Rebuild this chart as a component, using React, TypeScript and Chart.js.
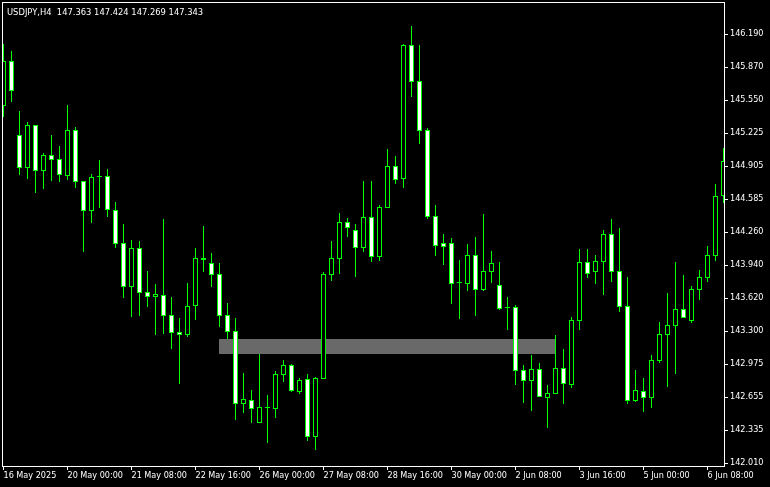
import React, { useEffect, useRef } from "react";
import { Chart, registerables } from "chart.js";

Chart.register(...registerables);

const chartTitle = "USDJPY,H4  147.363 147.424 147.269 147.343";

const openPrices = [
  145.492, 145.924, 145.204, 144.888, 145.301, 144.859, 145.009, 144.970, 144.810, 145.252,
  144.756, 144.469, 144.795, 144.804, 144.473, 144.152, 143.729, 144.103, 143.675, 143.632,
  143.646, 143.451, 143.285, 143.262, 143.539, 144.006, 143.957, 143.850, 143.451, 143.295,
  142.590, 142.623, 142.405, 142.545, 142.541, 142.873, 142.964, 142.707, 142.828, 142.263,
  142.834, 143.846, 144.002, 144.356, 144.279, 144.109, 144.405, 144.022, 144.499, 144.902,
  144.781, 146.080, 145.729, 145.252, 144.415, 144.152, 144.152, 143.763, 143.759, 144.035,
  143.700, 143.875, 143.743, 143.525, 143.529, 142.915, 142.814, 142.925, 142.649, 142.688,
  142.935, 142.772, 143.398, 143.967, 143.875, 143.973, 144.240, 143.879, 143.539, 142.619,
  142.711, 142.649, 143.009, 143.262, 143.350, 143.509, 143.398, 143.700, 143.817, 144.031,
  144.610,
];

const highPrices = [
  146.093, 146.024, 145.440, 145.330, 145.301, 145.028, 145.204, 145.096, 145.499, 145.281,
  144.756, 144.827, 144.963, 144.875, 144.554, 144.340, 144.184, 144.174, 143.882, 143.756,
  144.389, 143.629, 143.425, 143.765, 144.106, 144.320, 144.058, 143.960, 143.571, 143.425,
  142.889, 142.724, 143.077, 142.675, 142.909, 143.016, 142.974, 142.837, 142.879, 142.850,
  143.873, 144.174, 144.447, 144.395, 144.340, 144.759, 144.759, 144.522, 145.070, 145.002,
  146.093, 146.268, 146.083, 145.272, 144.525, 144.243, 144.204, 143.989, 144.145, 144.213,
  144.437, 144.077, 143.970, 143.629, 143.551, 142.967, 143.064, 142.986, 142.769, 143.259,
  143.123, 143.431, 144.096, 144.096, 144.035, 144.281, 144.389, 144.301, 143.824, 142.918,
  142.840, 143.064, 143.386, 143.668, 143.970, 143.843, 143.736, 143.889, 144.123, 144.729,
  145.080,
];

const lowPrices = [
  145.385, 145.531, 144.817, 144.778, 144.642, 144.681, 144.759, 144.749, 144.771, 144.693,
  144.067, 144.353, 144.499, 144.411, 144.109, 143.622, 143.437, 143.447, 143.535, 143.262,
  143.272, 143.126, 142.785, 143.243, 143.408, 143.875, 143.729, 143.340, 143.217, 142.434,
  142.500, 142.405, 142.405, 142.210, 142.454, 142.804, 142.704, 142.688, 142.230, 142.139,
  142.834, 143.788, 143.856, 144.216, 143.827, 144.070, 143.973, 143.983, 144.499, 144.732,
  144.693, 145.579, 145.122, 144.392, 144.028, 143.941, 143.561, 143.415, 143.688, 143.444,
  143.690, 143.768, 143.503, 143.311, 142.772, 142.600, 142.522, 142.651, 142.356, 142.688,
  142.590, 142.746, 143.311, 143.817, 143.759, 143.652, 143.778, 143.483, 142.590, 142.610,
  142.512, 142.551, 142.989, 142.756, 142.882, 143.428, 143.379, 143.603, 143.778, 143.983,
  144.541,
];

const closePrices = [
  145.924, 145.638, 144.888, 145.301, 144.859, 145.009, 144.966, 144.817, 145.252, 144.752,
  144.469, 144.795, 144.795, 144.479, 144.148, 143.729, 144.103, 143.671, 143.632, 143.658,
  143.447, 143.281, 143.262, 143.539, 144.006, 143.986, 143.846, 143.447, 143.291, 142.590,
  142.633, 142.541, 142.555, 142.545, 142.876, 142.964, 142.717, 142.821, 142.263, 142.837,
  143.850, 144.006, 144.356, 144.304, 144.109, 144.405, 144.022, 144.503, 144.902, 144.771,
  146.080, 145.725, 145.248, 144.411, 144.129, 144.119, 143.759, 143.763, 144.035, 143.700,
  143.879, 143.957, 143.515, 143.525, 142.911, 142.814, 142.925, 142.651, 142.691, 142.935,
  142.785, 143.402, 143.967, 143.856, 143.977, 144.240, 143.875, 143.535, 142.619, 142.721,
  142.649, 143.013, 143.266, 143.354, 143.509, 143.428, 143.704, 143.821, 144.035, 144.610,
  144.950,
];

const xTickIndex = [0, 8, 16, 24, 32, 40, 48, 56, 64, 72, 80, 88];
const xTickLabels = [
  "16 May 2025", "20 May 00:00", "21 May 08:00", "22 May 16:00", "26 May 00:00", "27 May 08:00",
  "28 May 16:00", "30 May 00:00", "2 Jun 08:00", "3 Jun 16:00", "5 Jun 00:00", "6 Jun 08:00",
];

const yTickValues = [
  146.19, 145.87, 145.55, 145.225, 144.905, 144.585, 144.26, 143.94, 143.62, 143.3,
  142.975, 142.655, 142.335, 142.01,
];

const zoneStartIndex = 27;
const zoneEndIndex = 69;
const zoneHigh = 143.22;
const zoneLow = 143.077;

const FONT_FAMILY = "'DejaVu Sans Condensed', 'DejaVu Sans', sans-serif";
const GREEN = "rgb(0, 255, 0)";

const mtPlugin = {
  id: "mtDecor",
  beforeDraw(chart: any) {
    const { ctx, width, height } = chart;
    ctx.save();
    ctx.fillStyle = "#000000";
    ctx.fillRect(0, 0, width, height);
    ctx.restore();
  },
  beforeDatasetsDraw(chart: any) {
    const { ctx, chartArea, scales } = chart;
    const x0 = Math.floor(scales.x.getPixelForValue(zoneStartIndex));
    const x1 = Math.floor(scales.x.getPixelForValue(zoneEndIndex));
    const y0 = Math.round(scales.y.getPixelForValue(zoneHigh));
    const y1 = Math.round(scales.y.getPixelForValue(zoneLow));
    ctx.save();
    ctx.beginPath();
    ctx.rect(chartArea.left, chartArea.top, chartArea.right - chartArea.left, chartArea.bottom - chartArea.top);
    ctx.clip();
    ctx.fillStyle = "#696969";
    ctx.fillRect(x0, y0, x1 - x0, y1 - y0);
    ctx.restore();
  },
  afterDraw(chart: any) {
    const { ctx, chartArea } = chart;
    ctx.save();
    ctx.strokeStyle = "#ffffff";
    ctx.lineWidth = 1;
    ctx.strokeRect(
      chartArea.left + 0.5,
      chartArea.top + 0.5,
      chartArea.right - chartArea.left,
      chartArea.bottom - chartArea.top
    );
    ctx.fillStyle = "#ffffff";
    ctx.font = `9.3px ${FONT_FAMILY}`;
    ctx.textBaseline = "alphabetic";
    ctx.textAlign = "left";
    ctx.fillText(chartTitle, 7, 15);
    ctx.restore();
  },
};

export default function App() {
  const canvasRef = useRef<HTMLCanvasElement | null>(null);

  useEffect(() => {
    document.body.style.margin = "0";
    document.body.style.background = "#000";
    const canvas = canvasRef.current;
    if (!canvas) return;
    const idx = openPrices.map((_, i) => i);

    const chart = new Chart(canvas, {
      type: "bar",
      data: {
        datasets: [
          {
            label: "wicks",
            data: idx.map((i) => ({ x: i, y: [lowPrices[i], highPrices[i]] })) as any,
            backgroundColor: GREEN,
            hoverBackgroundColor: GREEN,
            borderColor: GREEN,
            borderWidth: 0,
            barThickness: 1,
            maxBarThickness: 1,
            grouped: false,
            inflateAmount: 0,
            order: 2,
          } as any,
          {
            label: "bodies",
            data: idx.map((i) => ({ x: i, y: [openPrices[i], closePrices[i]] })) as any,
            backgroundColor: (c: any) =>
              closePrices[c.dataIndex] > openPrices[c.dataIndex] ? "#000000" : "#ffffff",
            borderColor: GREEN,
            hoverBorderColor: GREEN,
            borderWidth: 1,
            borderSkipped: false,
            barThickness: 5,
            maxBarThickness: 5,
            minBarLength: 1,
            grouped: false,
            inflateAmount: 0,
            order: 1,
          } as any,
        ],
      },
      options: {
        animation: false,
        responsive: false,
        events: [],
        layout: { padding: { left: 2, top: 2, right: 0, bottom: 0 } },
        plugins: {
          legend: { display: false },
          tooltip: { enabled: false },
          title: { display: false },
          colors: { enabled: false },
        },
        scales: {
          x: {
            type: "linear",
            min: -0.1875,
            max: 90.0625,
            bounds: "data",
            offset: false,
            position: "bottom",
            grid: {
              display: true,
              drawOnChartArea: false,
              drawTicks: true,
              tickLength: 4,
              color: "#ffffff",
              offset: false,
            },
            border: { display: false },
            ticks: {
              autoSkip: false,
              maxRotation: 0,
              minRotation: 0,
              align: "start",
              padding: 0,
              color: "#ffffff",
              font: { family: FONT_FAMILY, size: 9 },
              callback: (v: any) => {
                const j = xTickIndex.indexOf(Number(v));
                return j >= 0 ? xTickLabels[j] : "";
              },
            },
            afterBuildTicks: (scale: any) => {
              scale.ticks = xTickIndex.map((v) => ({ value: v }));
            },
            afterFit: (scale: any) => {
              scale.height = 21;
              scale.paddingLeft = 0;
              scale.paddingRight = 0;
              scale.paddingTop = 0;
              scale.paddingBottom = 0;
            },
          },
          y: {
            type: "linear",
            position: "right",
            min: 141.9835,
            max: 146.5015,
            bounds: "data",
            alignToPixels: true,
            grid: {
              display: true,
              drawOnChartArea: false,
              drawTicks: true,
              tickLength: 4,
              color: "#ffffff",
            },
            border: { display: false },
            ticks: {
              autoSkip: false,
              padding: 2,
              color: "#ffffff",
              font: { family: FONT_FAMILY, size: 9 },
              callback: (v: any) => Number(v).toFixed(3),
            },
            afterBuildTicks: (scale: any) => {
              scale.ticks = yTickValues.map((v) => ({ value: v }));
            },
            afterFit: (scale: any) => {
              scale.width = 46;
              scale.paddingLeft = 0;
              scale.paddingRight = 0;
              scale.paddingTop = 0;
              scale.paddingBottom = 0;
            },
          },
        },
      } as any,
      plugins: [mtPlugin],
    });

    return () => {
      chart.destroy();
    };
  }, []);

  return (
    <div style={{ width: 770, height: 487, background: "#000" }}>
      <canvas ref={canvasRef} width={770} height={487} style={{ display: "block" }} />
    </div>
  );
}
